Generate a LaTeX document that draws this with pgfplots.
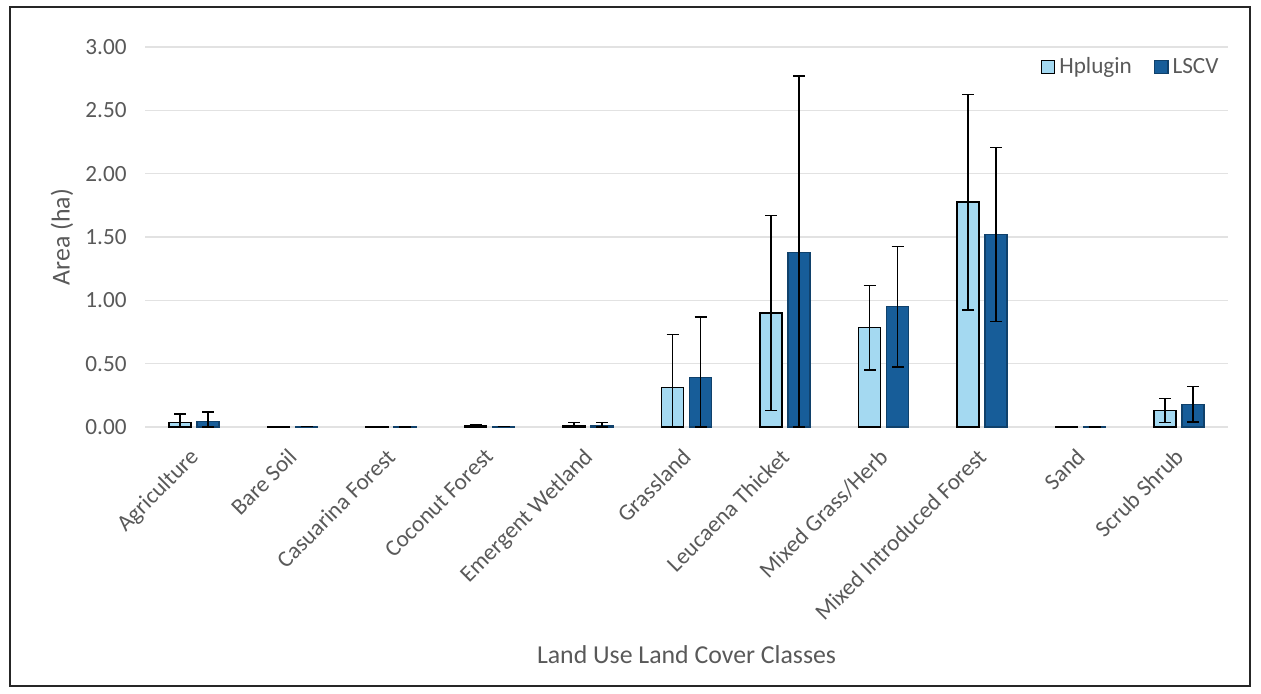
\documentclass[border=0pt]{standalone}
\usepackage{fontspec}
\setmainfont{Carlito}
\usepackage{pgfplots}
\pgfplotsset{compat=1.18}
\usepackage{pgfplotstable}
\definecolor{hcol}{HTML}{A4D9F1}
\definecolor{lcol}{HTML}{175D99}
\definecolor{tgrey}{HTML}{595959}
\definecolor{ggrey}{HTML}{E2E2E2}

\pgfplotstableread{
x y ep em
0 0.035 0.070 0.035
1 0.004 0 0
2 0.003 0 0
3 0.012 0.008 0.008
4 0.013 0.022 0.013
5 0.310 0.420 0.310
6 0.900 0.770 0.770
7 0.785 0.333 0.333
8 1.775 0.850 0.850
9 0.002 0 0
10 0.130 0.095 0.095
}\hdata

\pgfplotstableread{
x y ep em
0 0.045 0.073 0.045
1 0.003 0 0
2 0.002 0 0
3 0.003 0 0
4 0.013 0.022 0.013
5 0.390 0.480 0.390
6 1.380 1.390 1.380
7 0.950 0.476 0.476
8 1.520 0.687 0.687
9 0.002 0 0
10 0.180 0.140 0.140
}\ldata

\begin{document}
\begin{tikzpicture}
\useasboundingbox (0,0) rectangle (630.5pt,346.5pt);
\draw[line width=1.2pt, black!85] (5pt,3.5pt) rectangle (625pt,343pt);
\begin{axis}[
  at={(72.4pt,133pt)}, anchor=south west,
  scale only axis, width=541.75pt, height=190pt,
  ybar=3pt, bar width=11pt,
  xmin=-0.5, xmax=10.5, ymin=0, ymax=3,
  clip=false,
  xtick={0,1,2,3,4,5,6,7,8,9,10},
  xticklabels={Agriculture, Bare Soil, Casuarina Forest, Coconut Forest, Emergent Wetland, Grassland, Leucaena Thicket, Mixed Grass/Herb, Mixed Introduced Forest, Sand, Scrub Shrub},
  ytick={0,0.5,1,1.5,2,2.5,3},
  /pgf/number format/assume math mode=true,
  yticklabel style={/pgf/number format/.cd, fixed, fixed zerofill, precision=2, /tikz/.cd,
    font=\fontsize{11.6}{13}\selectfont, text=tgrey, inner sep=0pt, xshift=-8.9pt},
  xticklabel style={xshift=-2.9pt, yshift=-5.6pt, rotate=45, anchor=north east, inner sep=0pt,
    font=\fontsize{11.6}{13}\selectfont, text=tgrey},
  axis line style={draw=none},
  tick style={draw=none},
  ymajorgrids=true,
  major grid style={ggrey, line width=0.8pt},
  xlabel={Land Use Land Cover Classes},
  ylabel={Area (ha)},
  every axis x label/.style={at={(axis description cs:0.5,0)}, anchor=center, yshift=-114pt,
    font=\fontsize{12.9}{14}\selectfont, text=tgrey},
  every axis y label/.style={at={(axis description cs:-0.0764,0.5)}, rotate=90, anchor=center,
    font=\fontsize{12.9}{14}\selectfont, text=tgrey},
  legend style={at={(0.995,0.947)}, anchor=east, draw=none, fill=none, legend columns=2,
    font=\fontsize{11.6}{13}\selectfont, text=tgrey, inner sep=0pt,
    nodes={inner sep=2pt},
    /tikz/every even column/.append style={column sep=9pt}},
  legend image code/.code={\draw[#1] (0pt,-3.3pt) rectangle (6.6pt,3.3pt);},
]
\addplot[fill=hcol, draw=black, line width=0.7pt,
  error bars/.cd, y dir=both, y explicit,
  error bar style={black, line width=0.8pt},
  error mark options={rotate=90, mark size=3pt, line width=0.8pt, black}]
  table[x=x, y=y, y error plus=ep, y error minus=em] {\hdata};
\addplot[fill=lcol, draw=lcol!70!black, line width=0.7pt,
  error bars/.cd, y dir=both, y explicit,
  error bar style={black, line width=0.8pt},
  error mark options={rotate=90, mark size=3pt, line width=0.8pt, black}]
  table[x=x, y=y, y error plus=ep, y error minus=em] {\ldata};
\legend{Hplugin, LSCV}
\end{axis}
\end{tikzpicture}
\end{document}
